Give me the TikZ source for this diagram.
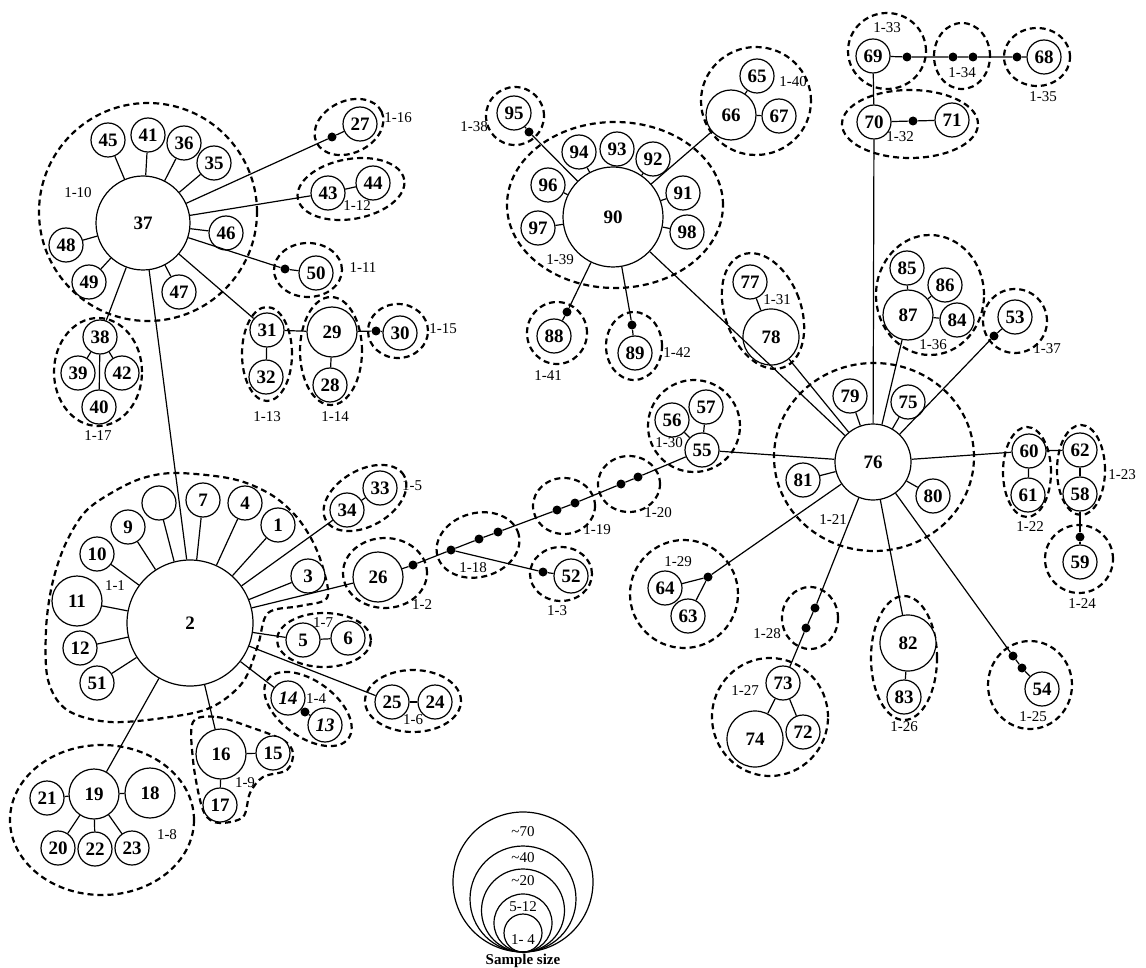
\documentclass[tikz,border=0pt]{standalone}
\usepackage{fontspec}
\setmainfont{Liberation Serif}
\begin{document}
\begin{tikzpicture}[x=1pt,y=-1pt,
  hap/.style={circle, draw, line width=1.2pt, fill=white, minimum size=34pt, inner sep=0pt, font=\fontsize{19}{19}\selectfont\bfseries},
  midh/.style={hap, minimum size=50pt},
  bigh/.style={hap, minimum size=56pt},
  ith/.style={hap, font=\fontsize{19}{19}\selectfont\bfseries\itshape},
  dotn/.style={circle, fill=black, inner sep=0pt, minimum size=9pt},
  edge/.style={line width=1.2pt},
  grp/.style={line width=2.2pt, dash pattern=on 6pt off 4pt},
  lab/.style={font=\fontsize{15}{15}\selectfont, inner sep=0pt},
  legc/.style={circle, draw, line width=1.2pt, inner sep=0pt},
  legl/.style={font=\fontsize{15}{15}\selectfont, inner sep=0pt}]
\useasboundingbox (0,0) rectangle (1146,968);

% ---------- groups (dashed) ----------
\draw[grp] (148,212) circle[radius=109pt];
\draw[grp, rotate around={25:(349,127)}] (349,127) ellipse[x radius=36pt, y radius=26pt];
\draw[grp, rotate around={10:(351,189)}] (351,189) ellipse[x radius=54pt, y radius=30pt];
\draw[grp] (308,270) ellipse[x radius=34pt, y radius=27pt];
\draw[grp] (267,354) ellipse[x radius=25pt, y radius=47pt];
\draw[grp] (331,351) ellipse[x radius=31pt, y radius=54pt];
\draw[grp] (398,331) ellipse[x radius=30pt, y radius=27pt];
\draw[grp] (98,372) ellipse[x radius=44pt, y radius=54pt];
\draw[grp, rotate around={30:(365,498)}] (365,498) ellipse[x radius=45pt, y radius=28pt];
\draw[grp] (385,573) ellipse[x radius=42pt, y radius=35pt];
\draw[grp] (324,640) ellipse[x radius=47pt, y radius=27pt];
\draw[grp, rotate around={-36:(308,709)}] (308,709) ellipse[x radius=50pt, y radius=28pt];
\draw[grp] (413,701) ellipse[x radius=48pt, y radius=31pt];
\draw[grp] (102,820) ellipse[x radius=92pt, y radius=75pt];
\draw[grp, rotate around={15:(478,545)}] (478,545) ellipse[x radius=42pt, y radius=32pt];
\draw[grp] (561,574) ellipse[x radius=31pt, y radius=27pt];
\draw[grp] (564,506) ellipse[x radius=31pt, y radius=28pt];
\draw[grp] (629,484) ellipse[x radius=31pt, y radius=28pt];
\draw[grp] (694,426) circle[radius=46pt];
\draw[grp] (515,116) circle[radius=29pt];
\draw[grp] (615,205) ellipse[x radius=108pt, y radius=83pt];
\draw[grp] (756,101) ellipse[x radius=55pt, y radius=54pt];
\draw[grp] (557,333) ellipse[x radius=30pt, y radius=31pt];
\draw[grp] (634,346) ellipse[x radius=28pt, y radius=34pt];
\draw[grp, rotate around={20:(763,311)}] (763,311) ellipse[x radius=38pt, y radius=60pt];
\draw[grp] (887,51) ellipse[x radius=39pt, y radius=38pt];
\draw[grp] (962,56) ellipse[x radius=28pt, y radius=33pt];
\draw[grp] (1037,57) ellipse[x radius=33pt, y radius=29pt];
\draw[grp] (910,124) ellipse[x radius=68pt, y radius=34pt];
\draw[grp] (930,295) ellipse[x radius=54pt, y radius=60pt];
\draw[grp] (1015,321) circle[radius=32pt];
\draw[grp] (874,457) ellipse[x radius=100pt, y radius=94pt];
\draw[grp] (1027,472) ellipse[x radius=24pt, y radius=45pt];
\draw[grp] (1081,470) ellipse[x radius=24pt, y radius=45pt];
\draw[grp] (1079,559) circle[radius=34pt];
\draw[grp] (684,594) circle[radius=54pt];
\draw[grp] (810,618) ellipse[x radius=28pt, y radius=31pt];
\draw[grp] (904,658) ellipse[x radius=33pt, y radius=62pt];
\draw[grp] (1030,685) ellipse[x radius=42pt, y radius=44pt];
\draw[grp] (770,717) ellipse[x radius=58pt, y radius=59pt];
% 1-1 blob
\draw[grp] plot[smooth cycle, tension=0.55] coordinates {(177,473) (233,479) (270,494) (295,515) (312,540) (323,568) (327,598) (300,606) (268,613) (258,645) (243,682) (212,707) (170,717) (110,722) (67,710) (48,680) (46,630) (52,585) (65,545) (85,512) (113,492) (143,478)};
% 1-9 blob
\draw[grp] plot[smooth cycle, tension=0.55] coordinates {(193,722) (217,717) (250,727) (283,740) (293,753) (287,770) (263,777) (250,793) (243,817) (220,823) (207,817) (200,800) (193,760)};

% ---------- haplotype nodes ----------
\node[hap, minimum size=94pt] (n37) at (143,223) {37};
\node[hap] (n45) at (108,140) {45};
\node[hap] (n41) at (148,135) {41};
\node[hap] (n36) at (184,143) {36};
\node[hap] (n35) at (214,163) {35};
\node[hap] (n46) at (226,233) {46};
\node[hap] (n48) at (66,245) {48};
\node[hap] (n49) at (89,282) {49};
\node[hap] (n47) at (179,292) {47};
\node[hap] (n27) at (360,124) {27};
\node[hap] (n43) at (328,193) {43};
\node[hap] (n44) at (373,183) {44};
\node[hap] (n50) at (316,273) {50};
\node[hap] (n31) at (267,330) {31};
\node[hap] (n32) at (266,377) {32};
\node[midh] (n29) at (332,332) {29};
\node[hap] (n28) at (330,385) {28};
\node[hap] (n30) at (400,333) {30};
\node[hap] (n38) at (100,337) {38};
\node[hap] (n39) at (78,373) {39};
\node[hap] (n42) at (122,373) {42};
\node[hap] (n40) at (99,407) {40};

\node[hap, minimum size=126pt] (n2) at (190,623) {2};
\node[hap] (n7) at (203,500) {7};
\node[hap] (nb) at (159,503) {};
\node[hap] (n4) at (245,503) {4};
\node[hap] (n1) at (278,525) {1};
\node[hap] (n9) at (128,527) {9};
\node[hap] (n10) at (97,554) {10};
\node[midh] (n11) at (77,601) {11};
\node[hap] (n3) at (308,576) {3};
\node[hap] (n12) at (80,648) {12};
\node[hap] (n51) at (97,683) {51};
\node[hap] (n34) at (347,510) {34};
\node[hap] (n33) at (380,488) {33};
\node[midh] (n26) at (378,577) {26};
\node[hap] (n5) at (303,640) {5};
\node[hap] (n6) at (348,638) {6};
\node[ith] (n14) at (288,698) {14};
\node[ith] (n13) at (325,725) {13};
\node[hap] (n25) at (392,702) {25};
\node[hap] (n24) at (435,702) {24};
\node[midh] (n16) at (221,754) {16};
\node[hap] (n15) at (273,753) {15};
\node[hap] (n17) at (220,805) {17};
\node[midh] (n19) at (94,794) {19};
\node[midh] (n18) at (150,793) {18};
\node[hap] (n21) at (47,798) {21};
\node[hap] (n20) at (58,848) {20};
\node[hap] (n22) at (95,849) {22};
\node[hap] (n23) at (132,848) {23};
\node[hap] (n52) at (571,576) {52};
\node[hap] (n55) at (702,450) {55};
\node[hap] (n56) at (672,420) {56};
\node[hap] (n57) at (706,407) {57};

\node[hap, minimum size=100pt] (n90) at (613,217) {90};
\node[hap] (n94) at (579,152) {94};
\node[hap] (n93) at (617,149) {93};
\node[hap] (n92) at (653,159) {92};
\node[hap] (n91) at (683,193) {91};
\node[hap] (n98) at (687,232) {98};
\node[hap] (n96) at (548,185) {96};
\node[hap] (n97) at (538,228) {97};
\node[hap] (n95) at (514,113) {95};
\node[midh] (n66) at (731,115) {66};
\node[hap] (n65) at (757,76) {65};
\node[hap] (n67) at (779,116) {67};
\node[hap] (n88) at (554,336) {88};
\node[hap] (n89) at (635,353) {89};
\node[hap] (n77) at (750,282) {77};
\node[bigh] (n78) at (771,337) {78};

\node[hap, minimum size=76pt] (n76) at (873,462) {76};
\node[hap] (n79) at (850,396) {79};
\node[hap] (n75) at (908,402) {75};
\node[hap] (n81) at (803,480) {81};
\node[hap] (n80) at (933,496) {80};
\node[hap] (n60) at (1029,451) {60};
\node[hap] (n61) at (1028,495) {61};
\node[hap] (n62) at (1080,450) {62};
\node[hap] (n58) at (1080,494) {58};
\node[hap] (n59) at (1080,562) {59};
\node[hap] (n64) at (665,588) {64};
\node[hap] (n63) at (688,616) {63};
\node[bigh] (n82) at (908,643) {82};
\node[hap] (n83) at (904,697) {83};
\node[hap] (n54) at (1042,689) {54};
\node[hap] (n73) at (783,683) {73};
\node[bigh] (n74) at (755,739) {74};
\node[hap] (n72) at (803,732) {72};
\node[midh] (n87) at (908,315) {87};
\node[hap] (n85) at (907,268) {85};
\node[hap] (n86) at (945,285) {86};
\node[hap] (n84) at (957,320) {84};
\node[hap] (n53) at (1015,317) {53};
\node[hap] (n70) at (874,122) {70};
\node[hap] (n71) at (952,120) {71};
\node[hap] (n69) at (873,56) {69};
\node[hap] (n68) at (1044,57) {68};

% ---------- median vectors (dots) ----------
\node[dotn] (d27) at (332,137) {};
\node[dotn] (d50) at (285,269) {};
\node[dotn] (d30) at (376,331) {};
\node[dotn] (d13) at (305,712) {};
\node[dotn] (c1) at (413,565) {};
\node[dotn] (c2) at (451,550) {};
\node[dotn] (c3) at (479,539) {};
\node[dotn] (c4) at (498,532) {};
\node[dotn] (c5) at (557,510) {};
\node[dotn] (c6) at (575,503) {};
\node[dotn] (c7) at (621,484) {};
\node[dotn] (c8) at (638,477) {};
\node[dotn] (d52) at (543,572) {};
\node[dotn] (d95) at (529,132) {};
\node[dotn] (d88) at (567,312) {};
\node[dotn] (d89) at (632,325) {};
\node[dotn] (d71) at (913,121) {};
\node[dotn] (e1) at (907,57) {};
\node[dotn] (e2) at (953,57) {};
\node[dotn] (e3) at (973,57) {};
\node[dotn] (e4) at (1017,57) {};
\node[dotn] (d53) at (994,336) {};
\node[dotn] (d59) at (1080,537) {};
\node[dotn] (d64) at (708,577) {};
\node[dotn] (f1) at (815,608) {};
\node[dotn] (f2) at (806,628) {};
\node[dotn] (g1) at (1013,656) {};
\node[dotn] (g2) at (1022,668) {};

% ---------- connectors ----------
\foreach \t in {n45,n41,n36,n35,n46,n48,n49,n47,d27,n43,d50,n31,n38}
  \draw[edge] (n37) -- (\t);
\draw[edge] (n37) -- (n2.93);
\draw[edge] (d27) -- (n27);
\draw[edge] (n43) -- (n44);
\draw[edge] (d50) -- (n50);
\draw[edge] (n31) -- (n32);
\draw[edge] (n31) -- (n29);
\draw[edge] (n29) -- (n28);
\draw[edge] (n29) -- (d30) -- (n30);
\draw[edge] (n38) -- (n39);
\draw[edge] (n38) -- (n42);
\draw[edge] (n38) -- (n40);

\foreach \t in {n7,nb,n4,n1,n9,n10,n11,n12,n51,n3,n34,n26,n5,n14,n25,n16,n19}
  \draw[edge] (n2) -- (\t);
\draw[edge] (n34) -- (n33);
\draw[edge] (n5) -- (n6);
\draw[edge] (n14) -- (d13) -- (n13);
\draw[edge] (n25) -- (n24);
\draw[edge] (n16) -- (n15);
\draw[edge] (n16) -- (n17);
\foreach \t in {n18,n21,n20,n22,n23}
  \draw[edge] (n19) -- (\t);

\draw[edge] (n26) -- (c1) -- (c2) -- (c3) -- (c4) -- (c5) -- (c6) -- (c7) -- (c8) -- (n55);
\draw[edge] (c2) -- (d52) -- (n52);
\draw[edge] (n55) -- (n56);
\draw[edge] (n55) -- (n57);
\draw[edge] (n55) -- (n76);

\foreach \t in {n94,n93,n92,n91,n98,n96,n97,d95,n66,d88,d89,n76}
  \draw[edge] (n90) -- (\t);
\draw[edge] (d95) -- (n95);
\draw[edge] (n66) -- (n65);
\draw[edge] (n66) -- (n67);
\draw[edge] (d88) -- (n88);
\draw[edge] (d89) -- (n89);

\foreach \t in {n79,n75,n81,n80,n78,n87,d53,n70,n60,d64,f1,n82,g1}
  \draw[edge] (n76) -- (\t);
\draw[edge] (n78) -- (n77);
\draw[edge] (n87) -- (n85);
\draw[edge] (n87) -- (n86);
\draw[edge] (n87) -- (n84);
\draw[edge] (d53) -- (n53);
\draw[edge] (n70) -- (d71) -- (n71);
\draw[edge] (n70) -- (n69);
\draw[edge] (n69) -- (e1) -- (e2) -- (e3) -- (e4) -- (n68);
\draw[edge] (n60) -- (n61);
\draw[edge] (n60) -- (n62);
\draw[edge] (n62) -- (n58);
\draw[edge] (n58) -- (d59) -- (n59);
\draw[edge] (d64) -- (n64);
\draw[edge] (d64) -- (n63);
\draw[edge] (f1) -- (f2) -- (n73);
\draw[edge] (n73) -- (n74);
\draw[edge] (n73) -- (n72);
\draw[edge] (n82) -- (n83);
\draw[edge] (g1) -- (g2) -- (n54);

% ---------- group labels ----------
\node[lab] (l1) at (115,586) {1-1};
\node[lab] (l2) at (422,605) {1-2};
\node[lab] (l3) at (557,611) {1-3};
\node[lab] (l4) at (316,699) {1-4};
\node[lab] (l5) at (412,486) {1-5};
\node[lab] (l6) at (413,720) {1-6};
\node[lab] (l7) at (323,623) {1-7};
\node[lab] (l8) at (167,835) {1-8};
\node[lab] (l9) at (245,783) {1-9};
\node[lab] (l10) at (78,193) {1-10};
\node[lab] (l11) at (363,268) {1-11};
\node[lab] (l12) at (357,206) {1-12};
\node[lab] (l13) at (267,417) {1-13};
\node[lab] (l14) at (335,417) {1-14};
\node[lab] (l15) at (443,329) {1-15};
\node[lab] (l16) at (398,118) {1-16};
\node[lab] (l17) at (98,436) {1-17};
\node[lab] (l18) at (473,568) {1-18};
\node[lab] (l19) at (597,530) {1-19};
\node[lab] (l20) at (658,513) {1-20};
\node[lab] (l21) at (833,520) {1-21};
\node[lab] (l22) at (1030,527) {1-22};
\node[lab] (l23) at (1122,475) {1-23};
\node[lab] (l24) at (1082,604) {1-24};
\node[lab] (l25) at (1033,717) {1-25};
\node[lab] (l26) at (904,727) {1-26};
\node[lab] (l27) at (745,691) {1-27};
\node[lab] (l28) at (767,634) {1-28};
\node[lab] (l29) at (678,562) {1-29};
\node[lab] (l30) at (669,443) {1-30};
\node[lab] (l31) at (777,300) {1-31};
\node[lab] (l32) at (900,137) {1-32};
\node[lab] (l33) at (887,28) {1-33};
\node[lab] (l34) at (962,73) {1-34};
\node[lab] (l35) at (1043,97) {1-35};
\node[lab] (l36) at (933,345) {1-36};
\node[lab] (l37) at (1047,349) {1-37};
\node[lab] (l38) at (474,127) {1-38};
\node[lab] (l39) at (560,260) {1-39};
\node[lab] (l40) at (793,82) {1-40};
\node[lab] (l41) at (548,376) {1-41};
\node[lab] (l42) at (677,353) {1-42};

% ---------- legend ----------
\node[legc, minimum size=140pt] (k70) at (523,882) {};
\node[legc, minimum size=106pt] (k40) at (523,899) {};
\node[legc, minimum size=83pt] (k20) at (523,910.5) {};
\node[legc, minimum size=58pt] (k12) at (523,923) {};
\node[legc, minimum size=38pt] (k4) at (523,933) {};
\node[legl] (t70) at (523,832) {\textasciitilde 70};
\node[legl] (t40) at (523,858) {\textasciitilde 40};
\node[legl] (t20) at (523,881) {\textasciitilde 20};
\node[legl] (t12) at (523,907) {5-12};
\node[legl] (t4) at (523,940) {1- 4};
\node[legl, font=\fontsize{15}{15}\selectfont\bfseries] (ts) at (523,961) {Sample size};
\end{tikzpicture}
\end{document}
